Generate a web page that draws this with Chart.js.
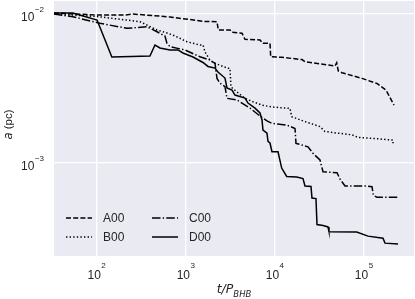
<!DOCTYPE html>
<html>
<head>
<meta charset="utf-8">
<script src="https://cdn.jsdelivr.net/npm/chart.js@4.4.1/dist/chart.umd.min.js"></script>
<style>
  html, body { margin: 0; padding: 0; background: #fff; }
  #wrap { width: 415px; height: 299px; }
</style>
</head>
<body>
<div id="wrap"><canvas id="chart" width="415" height="299"></canvas></div>
<script>
const runNames = ['A00', 'B00', 'C00', 'D00'];

// t / P_BHB and a (pc) for each run
const tA = [33, 101, 208, 256, 665, 1643, 2240, 2316, 3133, 3300, 4273, 4616, 6806, 7350, 8810, 8973, 12010, 20150, 21770, 47270, 49390, 51480, 56630, 95000, 139900, 176600, 217100];
const aA = [1.015e-2, 9.85e-3, 9.85e-3, 1.0e-2, 9.55e-3, 8.90e-3, 8.88e-3, 7.81e-3, 7.81e-3, 7.53e-3, 7.42e-3, 6.76e-3, 6.69e-3, 6.35e-3, 6.35e-3, 5.16e-3, 5.11e-3, 4.94e-3, 4.78e-3, 4.47e-3, 4.70e-3, 4.14e-3, 4.03e-3, 3.69e-3, 3.41e-3, 3.08e-3, 2.44e-3];

const tB = [33, 101, 306, 475, 555, 718, 1031, 1443, 1560, 1643, 1869, 2128, 2976, 3133, 3216, 3754, 4616, 5679, 7166, 9270, 14770, 15440, 21770, 32080, 36500, 73350, 85640, 122950, 211600, 211600];
const aB = [1.0e-2, 9.62e-3, 8.88e-3, 7.81e-3, 7.60e-3, 7.22e-3, 6.51e-3, 6.19e-3, 6.19e-3, 5.55e-3, 4.90e-3, 4.66e-3, 4.31e-3, 4.31e-3, 3.23e-3, 2.99e-3, 2.71e-3, 2.57e-3, 2.44e-3, 2.37e-3, 2.32e-3, 2.04e-3, 1.89e-3, 1.75e-3, 1.62e-3, 1.54e-3, 1.48e-3, 1.46e-3, 1.42e-3, 1.35e-3];

const tC = [33, 54, 109, 219, 367, 475, 584, 615, 665, 979, 1443, 1869, 2128, 2240, 2420, 2754, 2900, 3754, 5254, 6806, 8150, 9270, 13670, 16810, 17250, 23520, 26770, 32080, 34670, 49770, 53780, 61210, 108100, 122950, 127200, 139900, 240900];
const aC = [1.0e-2, 9.59e-3, 8.66e-3, 8.01e-3, 8.21e-3, 7.60e-3, 7.11e-3, 6.35e-3, 6.03e-3, 5.73e-3, 5.16e-3, 4.90e-3, 4.66e-3, 3.69e-3, 3.42e-3, 3.25e-3, 2.71e-3, 2.64e-3, 2.33e-3, 2.06e-3, 1.91e-3, 1.84e-3, 1.79e-3, 1.70e-3, 1.35e-3, 1.28e-3, 1.156e-3, 1.043e-3, 8.70e-4, 8.57e-4, 7.77e-4, 6.97e-4, 6.97e-4, 6.90e-4, 6.06e-4, 5.85e-4, 5.85e-4];

const tD = [33, 54, 101, 148, 396, 451, 513, 665, 817, 930, 1205, 1560, 1775, 2128, 2297, 2754, 2900, 3300, 3566, 4616, 4990, 5980, 6806, 7166, 7350, 8150, 8370, 8810, 9270, 10840, 11920, 13560, 17570, 20660, 21770, 25420, 26070, 28910, 29690, 34670, 39450, 40460, 82800, 110900, 163300, 172100, 240900];
const aD = [1.015e-2, 1.015e-2, 9.11e-3, 5.14e-3, 5.22e-3, 6.19e-3, 5.91e-3, 5.73e-3, 5.73e-3, 5.47e-3, 5.14e-3, 4.72e-3, 4.44e-3, 4.33e-3, 4.07e-3, 3.71e-3, 3.18e-3, 3.08e-3, 2.85e-3, 2.72e-3, 2.52e-3, 2.33e-3, 2.16e-3, 1.94e-3, 1.66e-3, 1.58e-3, 1.39e-3, 1.357e-3, 1.186e-3, 1.186e-3, 9.21e-4, 8.08e-4, 8.01e-4, 7.83e-4, 6.97e-4, 6.92e-4, 5.79e-4, 5.74e-4, 3.84e-4, 3.78e-4, 3.70e-4, 3.44e-4, 3.42e-4, 3.21e-4, 3.11e-4, 2.88e-4, 2.84e-4];

const xTickValues = [1e2, 1e3, 1e4, 1e5];
const xTickExps = ['2', '3', '4', '5'];
const yTickValues = [1e-3, 1e-2];
const yTickExps = ['\u22123', '\u22122'];
const xRange = [33.2, 3.64e5];
const yRange = [2.36e-4, 1.223e-2];

const FONT = "'Liberation Sans', Arial, sans-serif";
const MATH = "'DejaVu Sans', sans-serif";
const TEXT = '#262626';
const dashes = [[5, 2.2], [1.4, 2.2], [8.5, 2.2, 1.4, 2.2], []];

const toPoints = (xs, ys) => xs.map((x, i) => ({ x: x, y: ys[i] }));
const series = [[tA, aA], [tB, aB], [tC, aC], [tD, aD]];

const datasets = series.map((s, i) => ({
  label: runNames[i],
  data: toPoints(s[0], s[1]),
  borderColor: '#000',
  borderWidth: 1.5,
  borderDash: dashes[i],
  pointRadius: 0,
  fill: false,
  tension: 0,
  showLine: true,
}));

const decorations = {
  id: 'decorations',
  beforeDraw(chart) {
    const { ctx, chartArea: a } = chart;
    ctx.save();
    ctx.fillStyle = '#eaeaf2';
    ctx.fillRect(a.left, a.top, a.right - a.left, a.bottom - a.top);
    ctx.restore();
  },
  afterDraw(chart) {
    const { ctx, chartArea: a, scales } = chart;
    ctx.save();
    ctx.fillStyle = TEXT;
    ctx.textBaseline = 'alphabetic';

    // y tick labels 10^n
    yTickValues.forEach((v, i) => {
      const py = scales.y.getPixelForValue(v);
      ctx.textAlign = 'right';
      ctx.font = `8px ${FONT}`;
      const ew = ctx.measureText(yTickExps[i]).width;
      ctx.fillText(yTickExps[i], a.left - 10, py - 2);
      ctx.font = `12px ${FONT}`;
      ctx.fillText('10', a.left - 10 - ew - 0.5, py + 7);
    });

    // x tick labels 10^n
    xTickValues.forEach((v, i) => {
      const px = scales.x.getPixelForValue(v);
      ctx.textAlign = 'left';
      ctx.font = `12px ${FONT}`;
      const bw = ctx.measureText('10').width;
      ctx.font = `8px ${FONT}`;
      const ew = ctx.measureText(xTickExps[i]).width;
      const x0 = px - (bw + ew + 0.5) / 2;
      ctx.fillText(xTickExps[i], x0 + bw + 0.5, 268);
      ctx.font = `12px ${FONT}`;
      ctx.fillText('10', x0, 279);
    });

    // x axis title t/P_BHB
    ctx.textAlign = 'left';
    ctx.font = `italic 12.5px ${MATH}`;
    const mw = ctx.measureText('t/P').width;
    ctx.font = `italic 8.5px ${MATH}`;
    const sw = ctx.measureText('BHB').width;
    const tx = (a.left + a.right) / 2 - (mw + sw) / 2;
    ctx.font = `italic 12.5px ${MATH}`;
    ctx.fillText('t/P', tx, 293);
    ctx.font = `italic 8.5px ${MATH}`;
    ctx.fillText('BHB', tx + mw, 297);

    // y axis title a (pc)
    ctx.save();
    ctx.translate(12, (a.top + a.bottom) / 2 - 4);
    ctx.rotate(-Math.PI / 2);
    ctx.font = `italic 11.5px ${MATH}`;
    const aw = ctx.measureText('a').width;
    ctx.font = `11.5px ${FONT}`;
    const pw = ctx.measureText(' (pc)').width;
    ctx.font = `italic 11.5px ${MATH}`;
    ctx.fillText('a', -(aw + pw) / 2, 0);
    ctx.font = `11.5px ${FONT}`;
    ctx.fillText(' (pc)', -(aw + pw) / 2 + aw, 0);
    ctx.restore();

    // legend, two columns inside the plot
    const cols = [a.left + 12, a.left + 98];
    const rows = [a.bottom - 38, a.bottom - 19];
    ctx.font = `12px ${FONT}`;
    ctx.textBaseline = 'middle';
    runNames.forEach((name, i) => {
      const lx = cols[Math.floor(i / 2)];
      const ly = rows[i % 2];
      ctx.beginPath();
      ctx.setLineDash(dashes[i]);
      ctx.strokeStyle = '#000';
      ctx.lineWidth = 1.5;
      ctx.moveTo(lx, ly);
      ctx.lineTo(lx + 26, ly);
      ctx.stroke();
      ctx.setLineDash([]);
      ctx.fillText(name, lx + 37, ly + 0.5);
    });
    ctx.restore();
  },
};

const decadeTicks = values => scale => {
  scale.ticks = values.map(v => ({ value: v }));
};

new Chart(document.getElementById('chart'), {
  type: 'scatter',
  data: { datasets: datasets },
  plugins: [decorations],
  options: {
    responsive: false,
    animation: false,
    devicePixelRatio: 1,
    layout: { padding: { top: 1, right: 1, left: 0, bottom: 0 } },
    plugins: { legend: { display: false }, tooltip: { enabled: false } },
    scales: {
      x: {
        type: 'logarithmic',
        min: xRange[0],
        max: xRange[1],
        afterBuildTicks: decadeTicks(xTickValues),
        afterFit: scale => { scale.height = 43; },
        ticks: { display: false },
        grid: { color: '#fff', lineWidth: 1.3, drawTicks: false },
        border: { display: false },
      },
      y: {
        type: 'logarithmic',
        min: yRange[0],
        max: yRange[1],
        afterBuildTicks: decadeTicks(yTickValues),
        afterFit: scale => { scale.width = 54; },
        ticks: { display: false },
        grid: { color: '#fff', lineWidth: 1.3, drawTicks: false },
        border: { display: false },
      },
    },
  },
});
</script>
</body>
</html>
